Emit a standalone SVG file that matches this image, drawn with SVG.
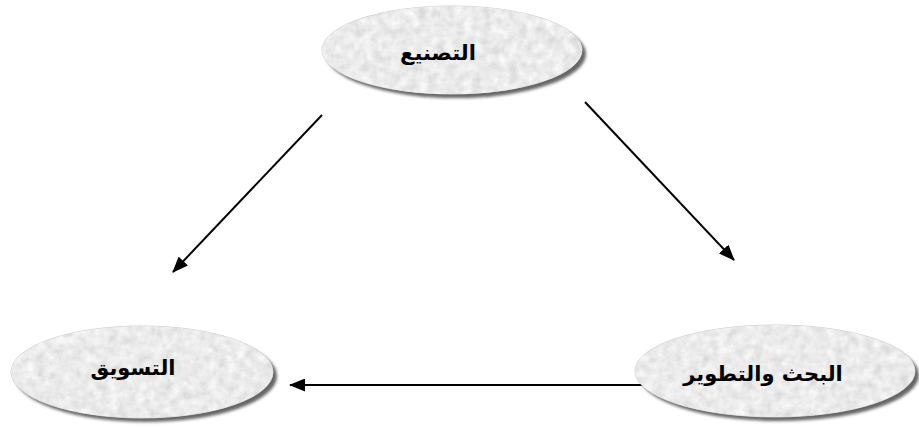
<svg xmlns="http://www.w3.org/2000/svg" width="919" height="427" viewBox="0 0 919 427">
<style>
.shadow{fill:#666}
.node{fill:#dcdcdc;stroke:#cfcfcf;stroke-width:1}
.tex{filter:url(#tex)}
.lbl{font-family:"DejaVu Sans","Liberation Sans",sans-serif;font-weight:bold;font-size:21px;fill:#000;text-anchor:middle}
.conn{stroke:#000;stroke-width:2;fill:none;marker-end:url(#arr)}
</style>
<defs>
<filter id="tex" x="0" y="0" width="1" height="1">
<feTurbulence type="fractalNoise" baseFrequency="0.11" numOctaves="3" seed="5" result="n"/>
<feColorMatrix in="n" type="matrix" values="0.25 0.25 0 0 0.58  0.25 0.25 0 0 0.58  0.25 0.25 0 0 0.58  0 0 0 0 1" result="g"/>
<feComposite in="g" in2="SourceGraphic" operator="in"/>
</filter>
<filter id="blur" x="-10%" y="-10%" width="120%" height="120%">
<feGaussianBlur stdDeviation="1.5"/>
</filter>
<marker id="arr" viewBox="0 0 16 13" refX="15" refY="6.5" markerWidth="16" markerHeight="13" markerUnits="userSpaceOnUse" orient="auto">
<path d="M0,0 L16,6.5 L0,13 Z" fill="#000"/>
</marker>
</defs>
<g id="connectors">
<line class="conn" x1="322" y1="115" x2="173" y2="272"/>
<line class="conn" x1="585" y1="102" x2="734" y2="260"/>
<line class="conn" x1="660" y1="385" x2="290" y2="385"/>
</g>
<g id="node-manufacturing">
<ellipse class="shadow" filter="url(#blur)" cx="456" cy="54" rx="130" ry="44"/>
<ellipse class="node" cx="452" cy="50" rx="130" ry="44"/>
<ellipse class="tex" cx="452" cy="50" rx="130" ry="44" fill="#fff"/>
<text class="lbl" x="438" y="60">التصنيع</text>
</g>
<g id="node-marketing">
<ellipse class="shadow" filter="url(#blur)" cx="146" cy="376" rx="131" ry="46"/>
<ellipse class="node" cx="142" cy="372" rx="131" ry="46"/>
<ellipse class="tex" cx="142" cy="372" rx="131" ry="46" fill="#fff"/>
<text class="lbl" x="133" y="375">التسويق</text>
</g>
<g id="node-rnd">
<ellipse class="shadow" filter="url(#blur)" cx="779" cy="375" rx="140" ry="46"/>
<ellipse class="node" cx="775" cy="371" rx="140" ry="46"/>
<ellipse class="tex" cx="775" cy="371" rx="140" ry="46" fill="#fff"/>
<text class="lbl" x="763" y="381">البحث والتطوير</text>
</g>
</svg>
